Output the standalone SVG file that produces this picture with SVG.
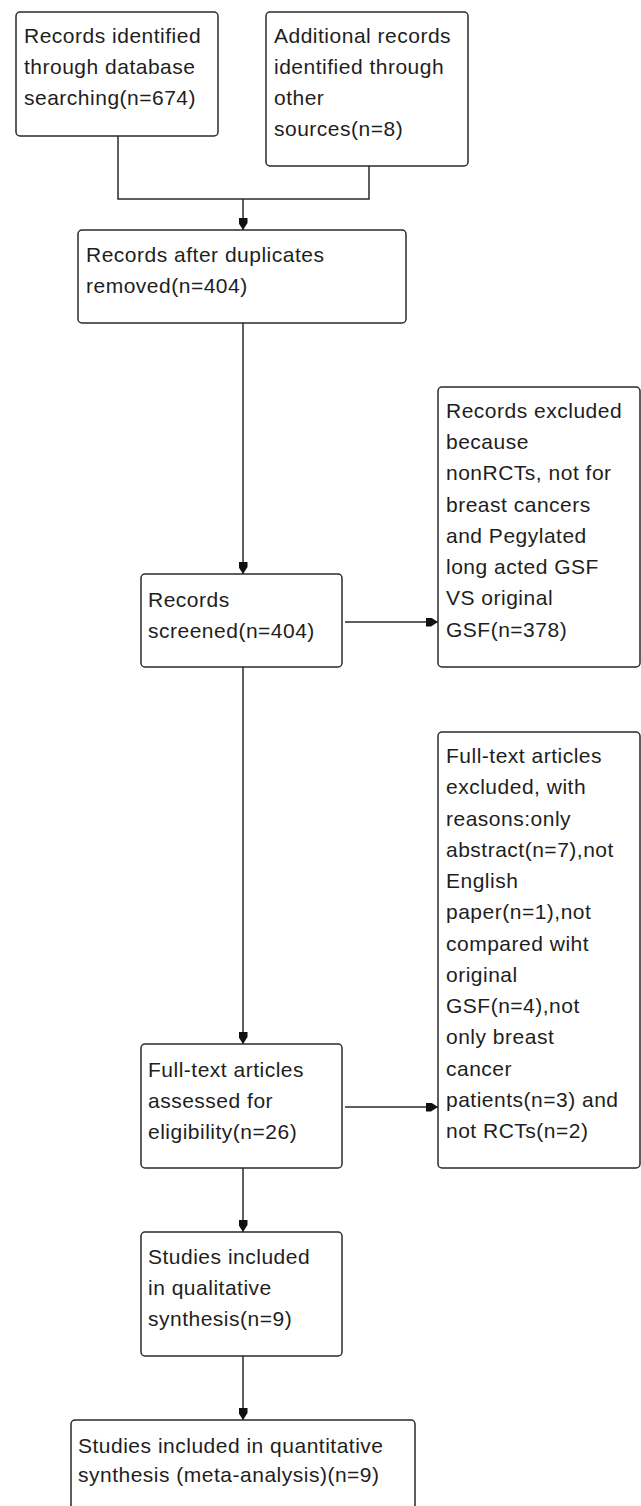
<svg xmlns="http://www.w3.org/2000/svg" width="641" height="1506" viewBox="0 0 641 1506">
<defs>
<style>
.box{fill:#fff;stroke:#2a2a2a;stroke-width:1.5}
.t{font-family:"Liberation Sans",Arial,sans-serif;font-size:21px;letter-spacing:0.5px;fill:#1e1e1e}
.c{fill:none;stroke:#2a2a2a;stroke-width:1.5}
</style>
<marker id="ah" viewBox="0 0 12 9" refX="12" refY="4.5" markerWidth="12" markerHeight="9" markerUnits="userSpaceOnUse" orient="auto">
<path d="M0,0 H5 L12,4.5 L5,9 H0 Z" fill="#111"/>
</marker>
</defs>
<rect width="641" height="1506" fill="#fff"/>
<g id="connectors">
<path class="c" d="M118,136 V199 H369 V166"/>
<path class="c" d="M243,199 V230" marker-end="url(#ah)"/>
<path class="c" d="M243,323 V574" marker-end="url(#ah)"/>
<path class="c" d="M345,622 H438" marker-end="url(#ah)"/>
<path class="c" d="M243,667 V1044" marker-end="url(#ah)"/>
<path class="c" d="M345,1107 H438" marker-end="url(#ah)"/>
<path class="c" d="M243,1168 V1232" marker-end="url(#ah)"/>
<path class="c" d="M243,1356 V1420" marker-end="url(#ah)"/>
</g>
<g id="n1">
<rect class="box" x="16" y="12" width="202" height="124" rx="4"/>
<text class="t" x="24" y="43">Records identified</text>
<text class="t" x="24" y="74">through database</text>
<text class="t" x="24" y="105">searching(n=674)</text>
</g>
<g id="n2">
<rect class="box" x="266" y="12" width="202" height="154" rx="4"/>
<text class="t" x="274" y="43">Additional records</text>
<text class="t" x="274" y="74">identified through</text>
<text class="t" x="274" y="105">other</text>
<text class="t" x="274" y="136">sources(n=8)</text>
</g>
<g id="n3">
<rect class="box" x="78" y="230" width="328" height="93" rx="4"/>
<text class="t" x="86" y="262">Records after duplicates</text>
<text class="t" x="86" y="293">removed(n=404)</text>
</g>
<g id="n4">
<rect class="box" x="141" y="574" width="201" height="93" rx="4"/>
<text class="t" x="148" y="607">Records</text>
<text class="t" x="148" y="638">screened(n=404)</text>
</g>
<g id="n5">
<rect class="box" x="438" y="387" width="202" height="280" rx="4"/>
<text class="t" x="446" y="418">Records excluded</text>
<text class="t" x="446" y="449">because</text>
<text class="t" x="446" y="480">nonRCTs, not for</text>
<text class="t" x="446" y="512">breast cancers</text>
<text class="t" x="446" y="543">and Pegylated</text>
<text class="t" x="446" y="574">long acted GSF</text>
<text class="t" x="446" y="605">VS original</text>
<text class="t" x="446" y="637">GSF(n=378)</text>
</g>
<g id="n6">
<rect class="box" x="141" y="1044" width="201" height="124" rx="4"/>
<text class="t" x="148" y="1077">Full-text articles</text>
<text class="t" x="148" y="1108">assessed for</text>
<text class="t" x="148" y="1139">eligibility(n=26)</text>
</g>
<g id="n7">
<rect class="box" x="438" y="732" width="202" height="436" rx="4"/>
<text class="t" x="446" y="763">Full-text articles</text>
<text class="t" x="446" y="794">excluded, with</text>
<text class="t" x="446" y="826">reasons:only</text>
<text class="t" x="446" y="857">abstract(n=7),not</text>
<text class="t" x="446" y="888">English</text>
<text class="t" x="446" y="919">paper(n=1),not</text>
<text class="t" x="446" y="951">compared wiht</text>
<text class="t" x="446" y="982">original</text>
<text class="t" x="446" y="1013">GSF(n=4),not</text>
<text class="t" x="446" y="1044">only breast</text>
<text class="t" x="446" y="1076">cancer</text>
<text class="t" x="446" y="1107">patients(n=3) and</text>
<text class="t" x="446" y="1138">not RCTs(n=2)</text>
</g>
<g id="n8">
<rect class="box" x="141" y="1232" width="201" height="124" rx="4"/>
<text class="t" x="148" y="1264">Studies included</text>
<text class="t" x="148" y="1295">in qualitative</text>
<text class="t" x="148" y="1326">synthesis(n=9)</text>
</g>
<g id="n9">
<rect class="box" x="71" y="1420" width="344" height="110" rx="4"/>
<text class="t" x="78" y="1453">Studies included in quantitative</text>
<text class="t" x="78" y="1482">synthesis (meta-analysis)(n=9)</text>
</g>
</svg>
